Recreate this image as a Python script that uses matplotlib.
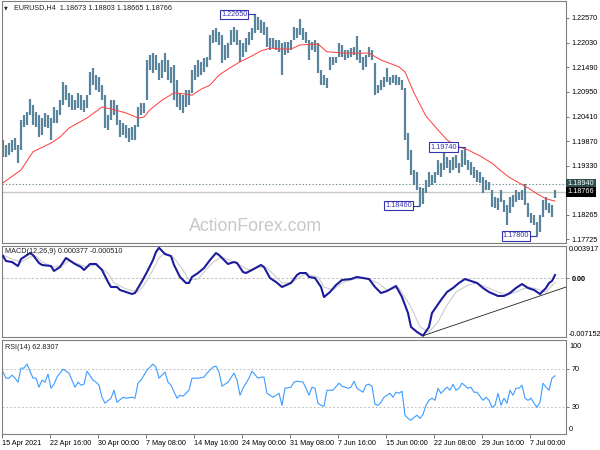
import matplotlib
matplotlib.use('Agg')
import matplotlib.pyplot as plt
import matplotlib.transforms as mtransforms
import numpy as np

plt.rcParams['font.family'] = ['Liberation Sans', 'DejaVu Sans']

# ---------------- data ----------------
title_text = "EURUSD,H4  1.18673 1.18803 1.18665 1.18766"
macd_text = "MACD(12,26,9) 0.000377 -0.000510"
rsi_text = "RSI(14) 62.8307"
watermark = "ActionForex.com"

highs = [
    1.1990, 1.1979, 1.1983, 1.1990, 1.1994, 1.1979, 1.2034, 1.2045, 1.2051, 1.2080,
    1.2066, 1.2051, 1.2045, 1.2038, 1.2049, 1.2045, 1.2038, 1.2062, 1.2056, 1.2077,
    1.2117, 1.2110, 1.2093, 1.2088, 1.2077, 1.2093, 1.2088, 1.2077, 1.2088, 1.2139,
    1.2147, 1.2132, 1.2128, 1.2110, 1.2088, 1.2045, 1.2077, 1.2077, 1.2066, 1.2034,
    1.2027, 1.2023, 1.2016, 1.2018, 1.2023, 1.2062, 1.2071, 1.2071, 1.2165, 1.2176,
    1.2180, 1.2176, 1.2158, 1.2165, 1.2180, 1.2165, 1.2150, 1.2154, 1.2121, 1.2093,
    1.2088, 1.2099, 1.2099, 1.2143, 1.2154, 1.2165, 1.2161, 1.2169, 1.2172, 1.2220,
    1.2231, 1.2235, 1.2226, 1.2220, 1.2198, 1.2202, 1.2231, 1.2237, 1.2231, 1.2209,
    1.2202, 1.2213, 1.2226, 1.2235, 1.2265, 1.2259, 1.2253, 1.2248, 1.2237, 1.2213,
    1.2213, 1.2209, 1.2209, 1.2202, 1.2204, 1.2204, 1.2209, 1.2237, 1.2235, 1.2255,
    1.2235, 1.2226, 1.2209, 1.2204, 1.2209, 1.2202, 1.2143, 1.2132, 1.2126, 1.2172,
    1.2172, 1.2172, 1.2202, 1.2198, 1.2187, 1.2187, 1.2191, 1.2193, 1.2218, 1.2187,
    1.2172, 1.2176, 1.2193, 1.2187, 1.2158, 1.2110, 1.2121, 1.2128, 1.2147, 1.2128,
    1.2132, 1.2132, 1.2128, 1.2121, 1.2104, 1.2005, 1.1968, 1.1924, 1.1920, 1.1887,
    1.1885, 1.1902, 1.1920, 1.1913, 1.1920, 1.1946, 1.1939, 1.1964, 1.1953, 1.1946,
    1.1953, 1.1957, 1.1939, 1.1968, 1.1974, 1.1946, 1.1942, 1.1931, 1.1924, 1.1920,
    1.1909, 1.1902, 1.1898, 1.1880, 1.1865, 1.1863, 1.1880, 1.1858, 1.1847, 1.1865,
    1.1869, 1.1880, 1.1876, 1.1880, 1.1893, 1.1852, 1.1830, 1.1826, 1.1810, 1.1826,
    1.1858, 1.1865, 1.1852, 1.1847, 1.1880,
]
lows = [
    1.1953, 1.1953, 1.1957, 1.1964, 1.1968, 1.1939, 1.1968, 1.2018, 1.2023, 1.2045,
    1.2023, 1.2018, 1.1996, 1.2001, 1.2018, 1.2016, 1.1990, 1.2027, 1.2027, 1.2045,
    1.2066, 1.2077, 1.2062, 1.2056, 1.2056, 1.2060, 1.2056, 1.2051, 1.2060, 1.2088,
    1.2110, 1.2099, 1.2095, 1.2077, 1.2016, 1.2012, 1.2034, 1.2045, 1.2023, 1.1996,
    1.2001, 1.1994, 1.1985, 1.1990, 1.1990, 1.2018, 1.2045, 1.2049, 1.2077, 1.2143,
    1.2137, 1.2143, 1.2121, 1.2126, 1.2139, 1.2121, 1.2115, 1.2077, 1.2062, 1.2056,
    1.2049, 1.2062, 1.2066, 1.2093, 1.2121, 1.2128, 1.2132, 1.2139, 1.2150, 1.2165,
    1.2202, 1.2204, 1.2198, 1.2158, 1.2165, 1.2169, 1.2198, 1.2204, 1.2198, 1.2161,
    1.2172, 1.2183, 1.2198, 1.2209, 1.2224, 1.2231, 1.2224, 1.2220, 1.2193, 1.2187,
    1.2191, 1.2187, 1.2183, 1.2132, 1.2176, 1.2180, 1.2187, 1.2209, 1.2213, 1.2220,
    1.2209, 1.2202, 1.2165, 1.2187, 1.2183, 1.2137, 1.2110, 1.2110, 1.2104, 1.2143,
    1.2154, 1.2158, 1.2172, 1.2172, 1.2165, 1.2169, 1.2172, 1.2176, 1.2165, 1.2158,
    1.2143, 1.2150, 1.2172, 1.2165, 1.2088, 1.2093, 1.2099, 1.2106, 1.2117, 1.2110,
    1.2115, 1.2110, 1.2110, 1.2099, 1.1990, 1.1946, 1.1913, 1.1891, 1.1880, 1.1846,
    1.1850, 1.1874, 1.1887, 1.1891, 1.1896, 1.1913, 1.1909, 1.1924, 1.1928, 1.1918,
    1.1924, 1.1928, 1.1918, 1.1931, 1.1935, 1.1924, 1.1913, 1.1907, 1.1898, 1.1896,
    1.1874, 1.1880, 1.1880, 1.1843, 1.1841, 1.1837, 1.1854, 1.1832, 1.1804, 1.1830,
    1.1843, 1.1854, 1.1858, 1.1858, 1.1847, 1.1821, 1.1808, 1.1804, 1.1780, 1.1788,
    1.1821, 1.1837, 1.1830, 1.1821, 1.1862,
]

ma_idx = [0, 6, 10, 16, 19, 22, 28, 33, 37, 41,
          45, 47, 49, 53, 57, 60, 63, 66, 69, 72,
          75, 79, 83, 86, 89, 93, 96, 99, 105, 108,
          114, 122, 126, 132, 134, 137, 141, 145, 148, 151,
          155, 159, 163, 166, 169, 172, 175, 178, 181, 184]
ma_vals = [1.1896, 1.1924, 1.1964, 1.1983, 1.1996, 1.2016, 1.2038, 1.2062, 1.2056, 1.2049,
           1.2038, 1.2040, 1.2056, 1.2077, 1.2093, 1.2091, 1.2088, 1.2101, 1.2110, 1.2132,
           1.2145, 1.2161, 1.2174, 1.2185, 1.2191, 1.2189, 1.2189, 1.2198, 1.2200, 1.2183,
           1.2180, 1.2180, 1.2165, 1.2150, 1.2139, 1.2093, 1.2042, 1.2012, 1.1990, 1.1977,
           1.1968, 1.1955, 1.1939, 1.1922, 1.1907, 1.1896, 1.1885, 1.1872, 1.1861, 1.1856]

price_ticks = [1.22570, 1.22030, 1.21490, 1.20950, 1.20410, 1.19870, 1.19330, 1.18265, 1.17725]
level_line = 1.18940
last_price = 1.18766
annot_idx = [84, 154, 139, 178]
annot_vals = [1.22650, 1.19740, 1.18460, 1.17800]

macd_idx = [0, 1, 3, 5, 6, 9, 10, 12, 13, 16,
            17, 19, 21, 22, 24, 26, 27, 29, 31, 33,
            35, 36, 38, 39, 41, 43, 44, 46, 48, 50,
            51, 52, 54, 56, 57, 59, 61, 62, 63, 65,
            67, 69, 71, 72, 75, 77, 78, 80, 81, 83,
            86, 87, 89, 91, 93, 96, 98, 99, 101, 102,
            104, 106, 107, 109, 111, 113, 116, 118, 120, 122,
            124, 126, 128, 131, 133, 135, 136, 138, 140, 142,
            143, 146, 148, 150, 152, 154, 156, 158, 160, 162,
            165, 167, 169, 171, 173, 175, 177, 179, 181, 182,
            183, 184]
macd_vals = [0.00270, 0.00209, 0.00197, 0.00148, 0.00233, 0.00306, 0.00282, 0.00185, 0.00161, 0.00148,
             0.00088, 0.00136, 0.00246, 0.00221, 0.00173, 0.00136, 0.00100, 0.00173, 0.00173, 0.00100,
             -0.00046, -0.00107, -0.00107, -0.00143, -0.00168, -0.00192, -0.00180, -0.00058, 0.00075, 0.00221,
             0.00319, 0.00370, 0.00294, 0.00270, 0.00161, 0.00015, -0.00058, -0.00058, 0.00015, 0.00063,
             0.00124, 0.00221, 0.00306, 0.00282, 0.00173, 0.00197, 0.00185, 0.00075, 0.00063, 0.00100,
             0.00161, 0.00136, 0.00002, -0.00046, -0.00107, -0.00058, 0.00039, 0.00063, 0.00063, 0.00015,
             0.00002, -0.00107, -0.00229, -0.00168, -0.00083, -0.00022, -0.00010, 0.00015, 0.00002, -0.00010,
             -0.00107, -0.00180, -0.00156, -0.00095, -0.00229, -0.00423, -0.00593, -0.00654, -0.00700, -0.00593,
             -0.00423, -0.00265, -0.00168, -0.00119, -0.00058, -0.00010, -0.00034, -0.00058, -0.00119, -0.00168,
             -0.00216, -0.00216, -0.00180, -0.00119, -0.00071, -0.00119, -0.00143, -0.00192, -0.00119, -0.00058,
             -0.00034, 0.000377]
sig_idx = [0, 2, 6, 9, 11, 13, 17, 20, 22, 26,
           28, 31, 35, 37, 41, 45, 47, 50, 52, 54,
           57, 60, 62, 65, 67, 70, 73, 76, 79, 82,
           85, 88, 91, 93, 96, 99, 101, 105, 107, 110,
           113, 117, 121, 125, 128, 132, 136, 139, 142, 145,
           148, 151, 155, 158, 161, 165, 168, 171, 175, 178,
           181, 184]
sig_vals = [0.00282, 0.00246, 0.00197, 0.00258, 0.00270, 0.00197, 0.00136, 0.00161, 0.00209, 0.00161,
            0.00136, 0.00161, 0.00063, -0.00058, -0.00131, -0.00168, -0.00083, 0.00100, 0.00246, 0.00306,
            0.00246, 0.00100, -0.00022, -0.00010, 0.00075, 0.00197, 0.00258, 0.00209, 0.00161, 0.00100,
            0.00136, 0.00124, 0.00015, -0.00058, -0.00058, 0.00015, 0.00051, 0.00015, -0.00107, -0.00143,
            -0.00058, -0.00010, 0.00002, -0.00058, -0.00143, -0.00119, -0.00350, -0.00593, -0.00654, -0.00533,
            -0.00326, -0.00168, -0.00083, -0.00058, -0.00107, -0.00168, -0.00204, -0.00168, -0.00107, -0.00131,
            -0.00168, -0.00051]
macd_max, macd_min = 0.003917, -0.007152
trend_idx = [140, 187.7]
trend_vals = [-0.00700, -0.00107]

rsi_idx = [0, 1, 2, 3, 4, 5, 6, 7, 8, 10,
           11, 12, 13, 14, 15, 16, 17, 18, 20, 22,
           23, 24, 25, 26, 27, 28, 30, 31, 32, 33,
           34, 36, 37, 38, 40, 41, 43, 44, 45, 46,
           48, 50, 51, 52, 54, 55, 56, 58, 59, 60,
           62, 63, 65, 67, 68, 70, 71, 72, 73, 75,
           77, 78, 79, 80, 82, 83, 85, 86, 87, 88,
           90, 91, 92, 93, 94, 96, 97, 98, 100, 101,
           102, 103, 104, 105, 106, 107, 108, 110, 112, 113,
           115, 116, 117, 118, 120, 121, 122, 123, 124, 125,
           126, 127, 128, 129, 130, 131, 132, 133, 134, 135,
           136, 137, 138, 139, 140, 141, 142, 143, 144, 145,
           146, 148, 149, 150, 151, 152, 153, 155, 156, 157,
           158, 160, 161, 162, 163, 164, 165, 166, 167, 168,
           169, 170, 171, 172, 173, 174, 175, 176, 177, 178,
           179, 180, 181, 182, 183, 184]
rsi_vals = [66.7, 60.3, 60.3, 63.5, 60.3, 56.1, 70.9, 70.9, 75.1, 60.3,
            60.3, 50.8, 58.2, 56.1, 64.6, 49.7, 54.0, 61.4, 69.8, 65.6,
            58.2, 50.8, 56.1, 52.9, 54.0, 67.7, 58.2, 56.1, 52.9, 40.2,
            33.9, 39.2, 47.6, 34.9, 40.2, 39.2, 40.2, 39.2, 55.0, 58.2,
            68.8, 75.1, 72.0, 60.3, 66.7, 56.1, 52.9, 39.2, 42.3, 41.3,
            47.6, 60.3, 60.3, 61.4, 65.6, 72.0, 73.0, 66.7, 51.9, 56.1,
            65.6, 58.2, 42.3, 49.7, 60.3, 67.7, 60.3, 61.4, 61.4, 44.4,
            40.2, 42.3, 44.4, 31.7, 49.7, 50.8, 56.1, 57.1, 56.1, 49.7,
            42.3, 50.8, 49.7, 33.9, 31.7, 30.7, 47.6, 47.6, 55.0, 51.9,
            49.7, 50.8, 57.1, 49.7, 45.5, 52.9, 54.0, 51.9, 32.8, 31.7,
            34.9, 40.2, 42.3, 44.4, 40.2, 45.5, 44.4, 46.6, 21.2, 18.0,
            15.9, 19.0, 21.2, 18.0, 22.2, 31.7, 37.0, 39.2, 37.0, 49.7,
            44.4, 50.8, 47.6, 54.0, 47.6, 49.7, 55.0, 49.7, 50.8, 45.5,
            45.5, 37.0, 40.2, 37.0, 29.6, 31.7, 44.4, 31.7, 39.2, 33.9,
            47.6, 42.3, 49.7, 49.7, 52.9, 39.2, 37.0, 39.2, 33.9, 29.6,
            34.9, 55.0, 50.8, 47.6, 60.3, 62.83]
rsi_levels = [70, 30]

time_labels = ["15 Apr 2021", "22 Apr 16:00", "30 Apr 00:00", "7 May 08:00",
               "14 May 16:00", "24 May 00:00", "31 May 08:00", "7 Jun 16:00",
               "15 Jun 00:00", "22 Jun 08:00", "29 Jun 16:00", "7 Jul 00:00"]
label_step = 16

# ---------------- styling ----------------
FS = 5.2
BAR = '#5a849c'
ANN = '#3434b0'
SPINE = '#808080'

fig = plt.figure(figsize=(6, 4.5), dpi=100)
W, H = 600.0, 450.0


def rect(x0, y0, x1, y1):
    return [x0 / W, 1 - y1 / H, (x1 - x0) / W, (y1 - y0) / H]


ax1 = fig.add_axes(rect(2, 1, 566, 243))
ax2 = fig.add_axes(rect(2, 246, 566, 337))
ax3 = fig.add_axes(rect(2, 340, 566, 434))

XMIN, XMAX = -1 / 3, 187.67
LX = 1.0053
for ax in (ax1, ax2, ax3):
    ax.set_xlim(XMIN, XMAX)
    ax.yaxis.tick_right()
    ax.tick_params(axis='y', direction='out', length=2.5, width=0.6, pad=1.5,
                   labelsize=FS, color='#606060', labelcolor='black')
    ax.tick_params(axis='x', bottom=False, labelbottom=False)
    for s in ax.spines.values():
        s.set_color(SPINE)
        s.set_linewidth(0.8)

# ---- main price panel ----
n = len(highs)
idx = np.arange(n)
ax1.set_ylim(1.17642, 1.22942)
ax1.text(0.4495, 0.0498, watermark, transform=ax1.transAxes, ha='center',
         va='baseline', fontsize=12.8, color='#c8c8c8', zorder=0)
ax1.axhline(level_line, color='#708a8a', lw=0.8, ls=(0, (1.2, 1.8)), zorder=1)
ax1.axhline(last_price, color='#c8c8c8', lw=1.0, zorder=1)
ax1.vlines(idx, lows, highs, color=BAR, lw=1.6, zorder=2)
ax1.plot(ma_idx, ma_vals, color='#ff4646', lw=0.75, zorder=3)
ax1.set_yticks(price_ticks)
ax1.set_yticklabels([f'{p:.5f}' for p in price_ticks])

trans1 = mtransforms.blended_transform_factory(ax1.transAxes, ax1.transData)
ax1.text(1.003, level_line, f'{level_line:.5f}', transform=trans1, ha='left', va='center',
         fontsize=FS, color='white', clip_on=False,
         bbox=dict(boxstyle='square,pad=0.22', fc='#2f4f4f', ec='none'))
ax1.text(1.003, last_price, f'{last_price:.5f}', transform=trans1, ha='left', va='center',
         fontsize=FS, color='white', clip_on=False,
         bbox=dict(boxstyle='square,pad=0.22', fc='black', ec='none'))

for i, v in zip(annot_idx, annot_vals):
    ax1.hlines(v, i - 2.4, i, color=ANN, lw=0.8, zorder=4)
    ax1.text(i - 2.6, v, f'{v:.5f}', ha='right', va='center', fontsize=FS, color=ANN, zorder=5,
             bbox=dict(boxstyle='square,pad=0.18', fc='white', ec=ANN, lw=0.8))

fig.text(6 / W, 1 - 8 / H, '\u25bc', fontsize=3.5, va='center', ha='center',
         family='DejaVu Sans', color='#202020')
fig.text(14 / W, 1 - 8 / H, title_text, fontsize=FS, va='center', ha='left', color='#202020')

# ---- MACD panel ----
ax2.set_ylim(macd_min, macd_max)
ax2.axhline(0, color='#b8b8b8', lw=0.6, ls=(0, (3, 2)), zorder=1)
ax2.plot(sig_idx, sig_vals, color='#cccccc', lw=0.8, zorder=2)
ax2.plot(macd_idx, macd_vals, color='#1c1c9c', lw=1.5, zorder=3)
ax2.plot(trend_idx, trend_vals, color='#202020', lw=0.6, zorder=4, clip_on=True)
ax2.set_yticks([0])
ax2.set_yticklabels(['0.00'], fontweight='bold')
ax2.text(LX, 0.967, f'{macd_max:.6f}', transform=ax2.transAxes, fontsize=FS, va='center', ha='left')
ax2.text(LX, 0.022, f'{macd_min:.6f}', transform=ax2.transAxes, fontsize=FS, va='center', ha='left')
ax2.text(0.0053, 0.945, macd_text, transform=ax2.transAxes, fontsize=FS, va='center',
         ha='left', color='#202020')

# ---- RSI panel ----
ax3.set_ylim(1.5, 100.5)
for lv in rsi_levels:
    ax3.axhline(lv, color='#c0c0c0', lw=0.7, ls=(0, (2, 2)), zorder=1)
ax3.plot(rsi_idx, rsi_vals, color='#3c9cff', lw=0.8, zorder=2)
ax3.set_yticks(rsi_levels)
ax3.set_yticklabels([str(v) for v in rsi_levels])
ax3.text(LX, 0.936, '100', transform=ax3.transAxes, fontsize=FS, va='center', ha='left')
ax3.text(LX, 0.053, '0', transform=ax3.transAxes, fontsize=FS, va='center', ha='left')
ax3.text(0.0053, 0.915, rsi_text, transform=ax3.transAxes, fontsize=FS, va='center',
         ha='left', color='#202020')

xt = [k * label_step - 0.3 for k in range(len(time_labels))]
ax3.set_xticks(xt)
ax3.set_xticklabels(time_labels, ha='left')
ax3.tick_params(axis='x', bottom=True, labelbottom=True, direction='out', length=3,
                width=0.6, pad=1.2, labelsize=FS, color='#606060')

fig.savefig('out.png', dpi=100, facecolor='white')
